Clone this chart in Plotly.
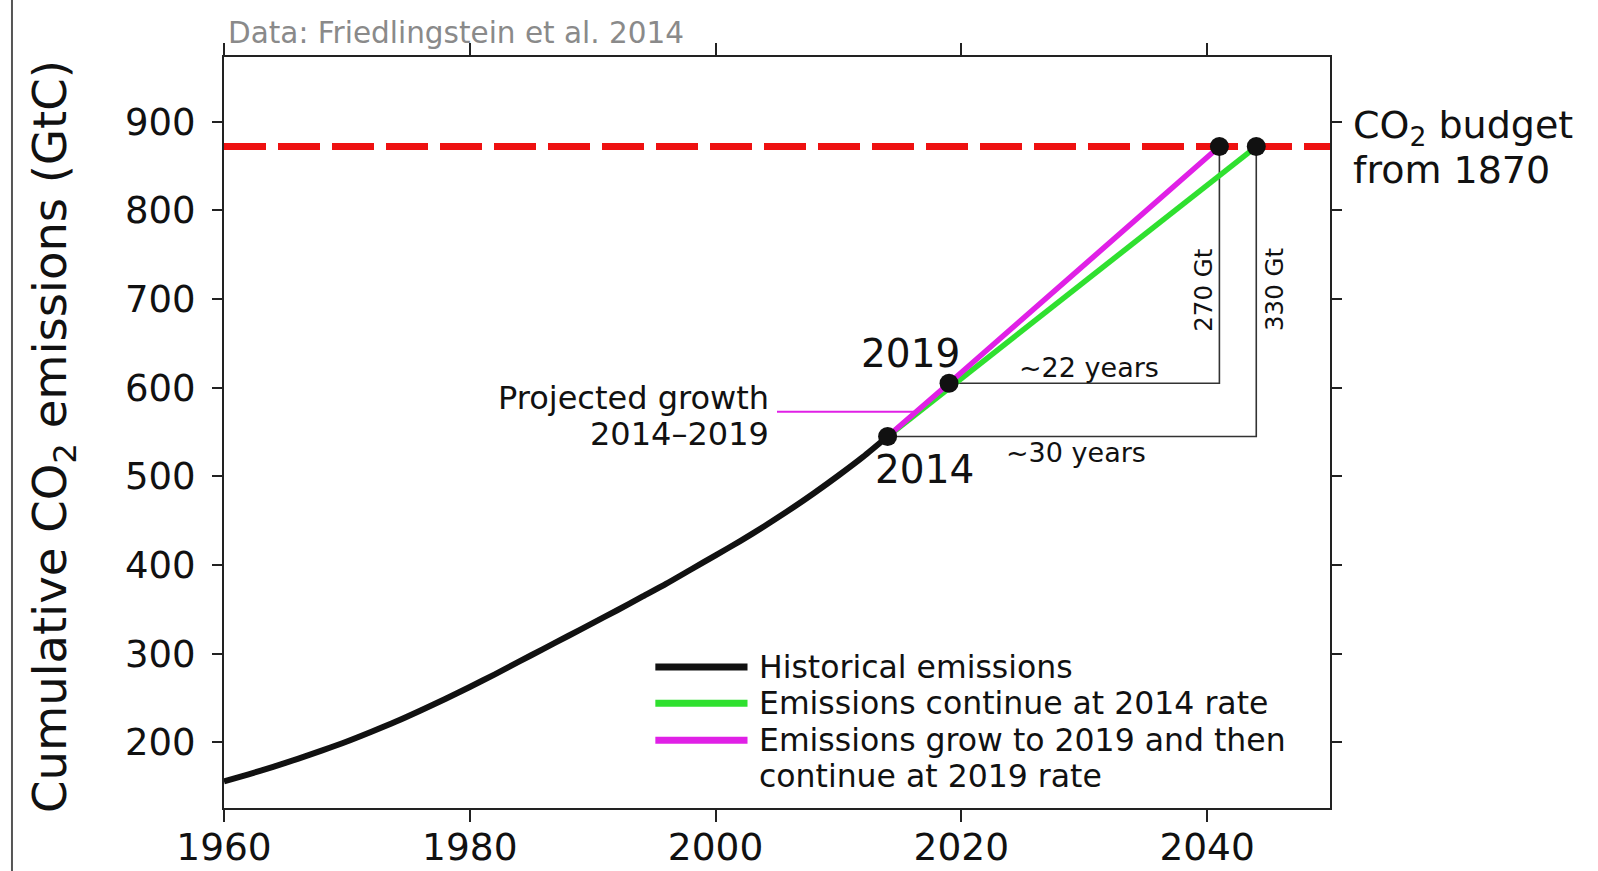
import plotly.graph_objects as go

# ---------------- data ----------------
hist_years = [1960, 1962, 1964, 1966, 1968, 1970, 1972, 1974, 1976, 1978,
              1980, 1982, 1984, 1986, 1988, 1990, 1992, 1994, 1996, 1998,
              2000, 2002, 2004, 2006, 2008, 2010, 2012, 2014]
hist_cum = [156, 164, 172.5, 181.5, 191, 201, 212, 223.5, 236, 249,
            262.5, 276.5, 291, 305.5, 320, 334.5, 349, 364, 379, 395,
            411, 427, 444, 462, 481, 501, 522, 545]

const_years = [2014, 2044]          # emissions continue at 2014 rate
const_cum = [545, 872]
grow_years = [2014, 2019, 2041]     # grow to 2019 then continue at 2019 rate
grow_cum = [545, 605, 872]

budget = 872                        # CO2 budget from 1870 (GtC)
budget_span = [1960, 2050]

point_years = [2014, 2019, 2041, 2044]
point_cum = [545, 605, 872, 872]

x_ticks = [1960, 1980, 2000, 2020, 2040]
y_ticks = [200, 300, 400, 500, 600, 700, 800, 900]
x_range = [1960, 2050]
y_range = [126, 973]

legend_labels = ["Historical emissions",
                 "Emissions continue at 2014 rate",
                 "Emissions grow to 2019 and then",
                 "continue at 2019 rate"]

BLACK = "#111111"
GREEN = "#2fe02f"
MAGENTA = "#e020e6"
RED = "#ee1111"
FONT = "DejaVu Sans"

fig = go.Figure()

# historical
fig.add_trace(go.Scatter(x=hist_years, y=hist_cum, mode="lines",
                         line=dict(color=BLACK, width=6, shape="spline",
                                   smoothing=0.6),
                         showlegend=False))
# brackets
fig.add_trace(go.Scatter(x=[grow_years[1], grow_years[2], grow_years[2]],
                         y=[grow_cum[1], grow_cum[1], grow_cum[2]],
                         mode="lines", line=dict(color="#333333", width=1.6),
                         showlegend=False))
fig.add_trace(go.Scatter(x=[const_years[0], const_years[1], const_years[1]],
                         y=[const_cum[0], const_cum[0], const_cum[1]],
                         mode="lines", line=dict(color="#333333", width=1.6),
                         showlegend=False))
# projections
fig.add_trace(go.Scatter(x=const_years, y=const_cum, mode="lines",
                         line=dict(color=GREEN, width=5.5), showlegend=False))
fig.add_trace(go.Scatter(x=grow_years, y=grow_cum, mode="lines",
                         line=dict(color=MAGENTA, width=5.5), showlegend=False))
# budget line
fig.add_trace(go.Scatter(x=budget_span, y=[budget, budget], mode="lines",
                         line=dict(color=RED, width=7, dash="42px,12px"),
                         showlegend=False))
# pointer for projected growth
fig.add_trace(go.Scatter(x=[2005.0, 2016.3], y=[573, 573], mode="lines",
                         line=dict(color=MAGENTA, width=2), showlegend=False))
# markers
fig.add_trace(go.Scatter(x=point_years, y=point_cum, mode="markers",
                         marker=dict(color=BLACK, size=19), showlegend=False))

# legend (manual)
leg_y = [285, 244, 202.3]
leg_cols = [BLACK, GREEN, MAGENTA]
for yy, cc in zip(leg_y, leg_cols):
    fig.add_trace(go.Scatter(x=[1995.1, 2002.6], y=[yy, yy], mode="lines",
                             line=dict(color=cc, width=7), showlegend=False))

ann = []
def txt(x, y, s, size, xanchor="center", yanchor="middle", color="#111111",
        xref="x", yref="y", angle=0, align="left"):
    ann.append(dict(x=x, y=y, xref=xref, yref=yref, text=s, showarrow=False,
                    xanchor=xanchor, yanchor=yanchor, textangle=angle,
                    align=align,
                    font=dict(family=FONT, size=size, color=color)))

for yy, lab in zip(leg_y + [162], legend_labels):
    txt(2003.4, yy, lab, 31.5, xanchor="left")

txt(2015.9, 639, "2019", 39)
txt(2017.0, 508, "2014", 39)
txt(2030.4, 623, "~22 years", 27)
txt(2029.3, 527, "~30 years", 27)
txt(2039.7, 711, "270 Gt", 24.5, angle=-90)
txt(2045.5, 711, "330 Gt", 24.5, angle=-90)
txt(2004.5, 588, "Projected growth", 32, xanchor="right")
txt(2004.5, 548, "2014\u20132019", 32, xanchor="right")

txt(1.019, 894, "CO<sub>2</sub> budget", 38, xanchor="left", xref="paper")
txt(1.019, 845, "from 1870", 38, xanchor="left", xref="paper")
txt(0.002, 1.032, "Data: Friedlingstein et al. 2014", 29.5, xanchor="left",
    xref="paper", yref="paper", color="#8a8a8a")
txt(-0.1546, 0.494, "Cumulative CO<sub>2</sub> emissions (GtC)", 46.5,
    xref="paper", yref="paper", angle=-90)

axis_common = dict(showgrid=False, zeroline=False, showline=True,
                   linecolor="#222222", linewidth=2, mirror="ticks",
                   ticks="outside", tickwidth=2, tickcolor="#222222",
                   automargin=False)

fig.update_layout(
    width=1598, height=871,
    margin=dict(l=224, r=268, t=57, b=63),
    plot_bgcolor="white", paper_bgcolor="white",
    xaxis=dict(range=x_range, tickvals=x_ticks, ticklen=12,
               ticklabelstandoff=-7,
               tickfont=dict(family=FONT, size=37.5, color="#111111"),
               **axis_common),
    yaxis=dict(range=y_range, tickvals=y_ticks, ticklen=10,
               ticklabelstandoff=9,
               tickfont=dict(family=FONT, size=37, color="#111111"),
               **axis_common),
    annotations=ann,
    shapes=[dict(type="line", xref="paper", yref="paper",
                 x0=-0.1917, x1=-0.1917, y0=-0.084, y1=1.076,
                 line=dict(color="#555555", width=2))],
)

fig.write_html("out.html")
